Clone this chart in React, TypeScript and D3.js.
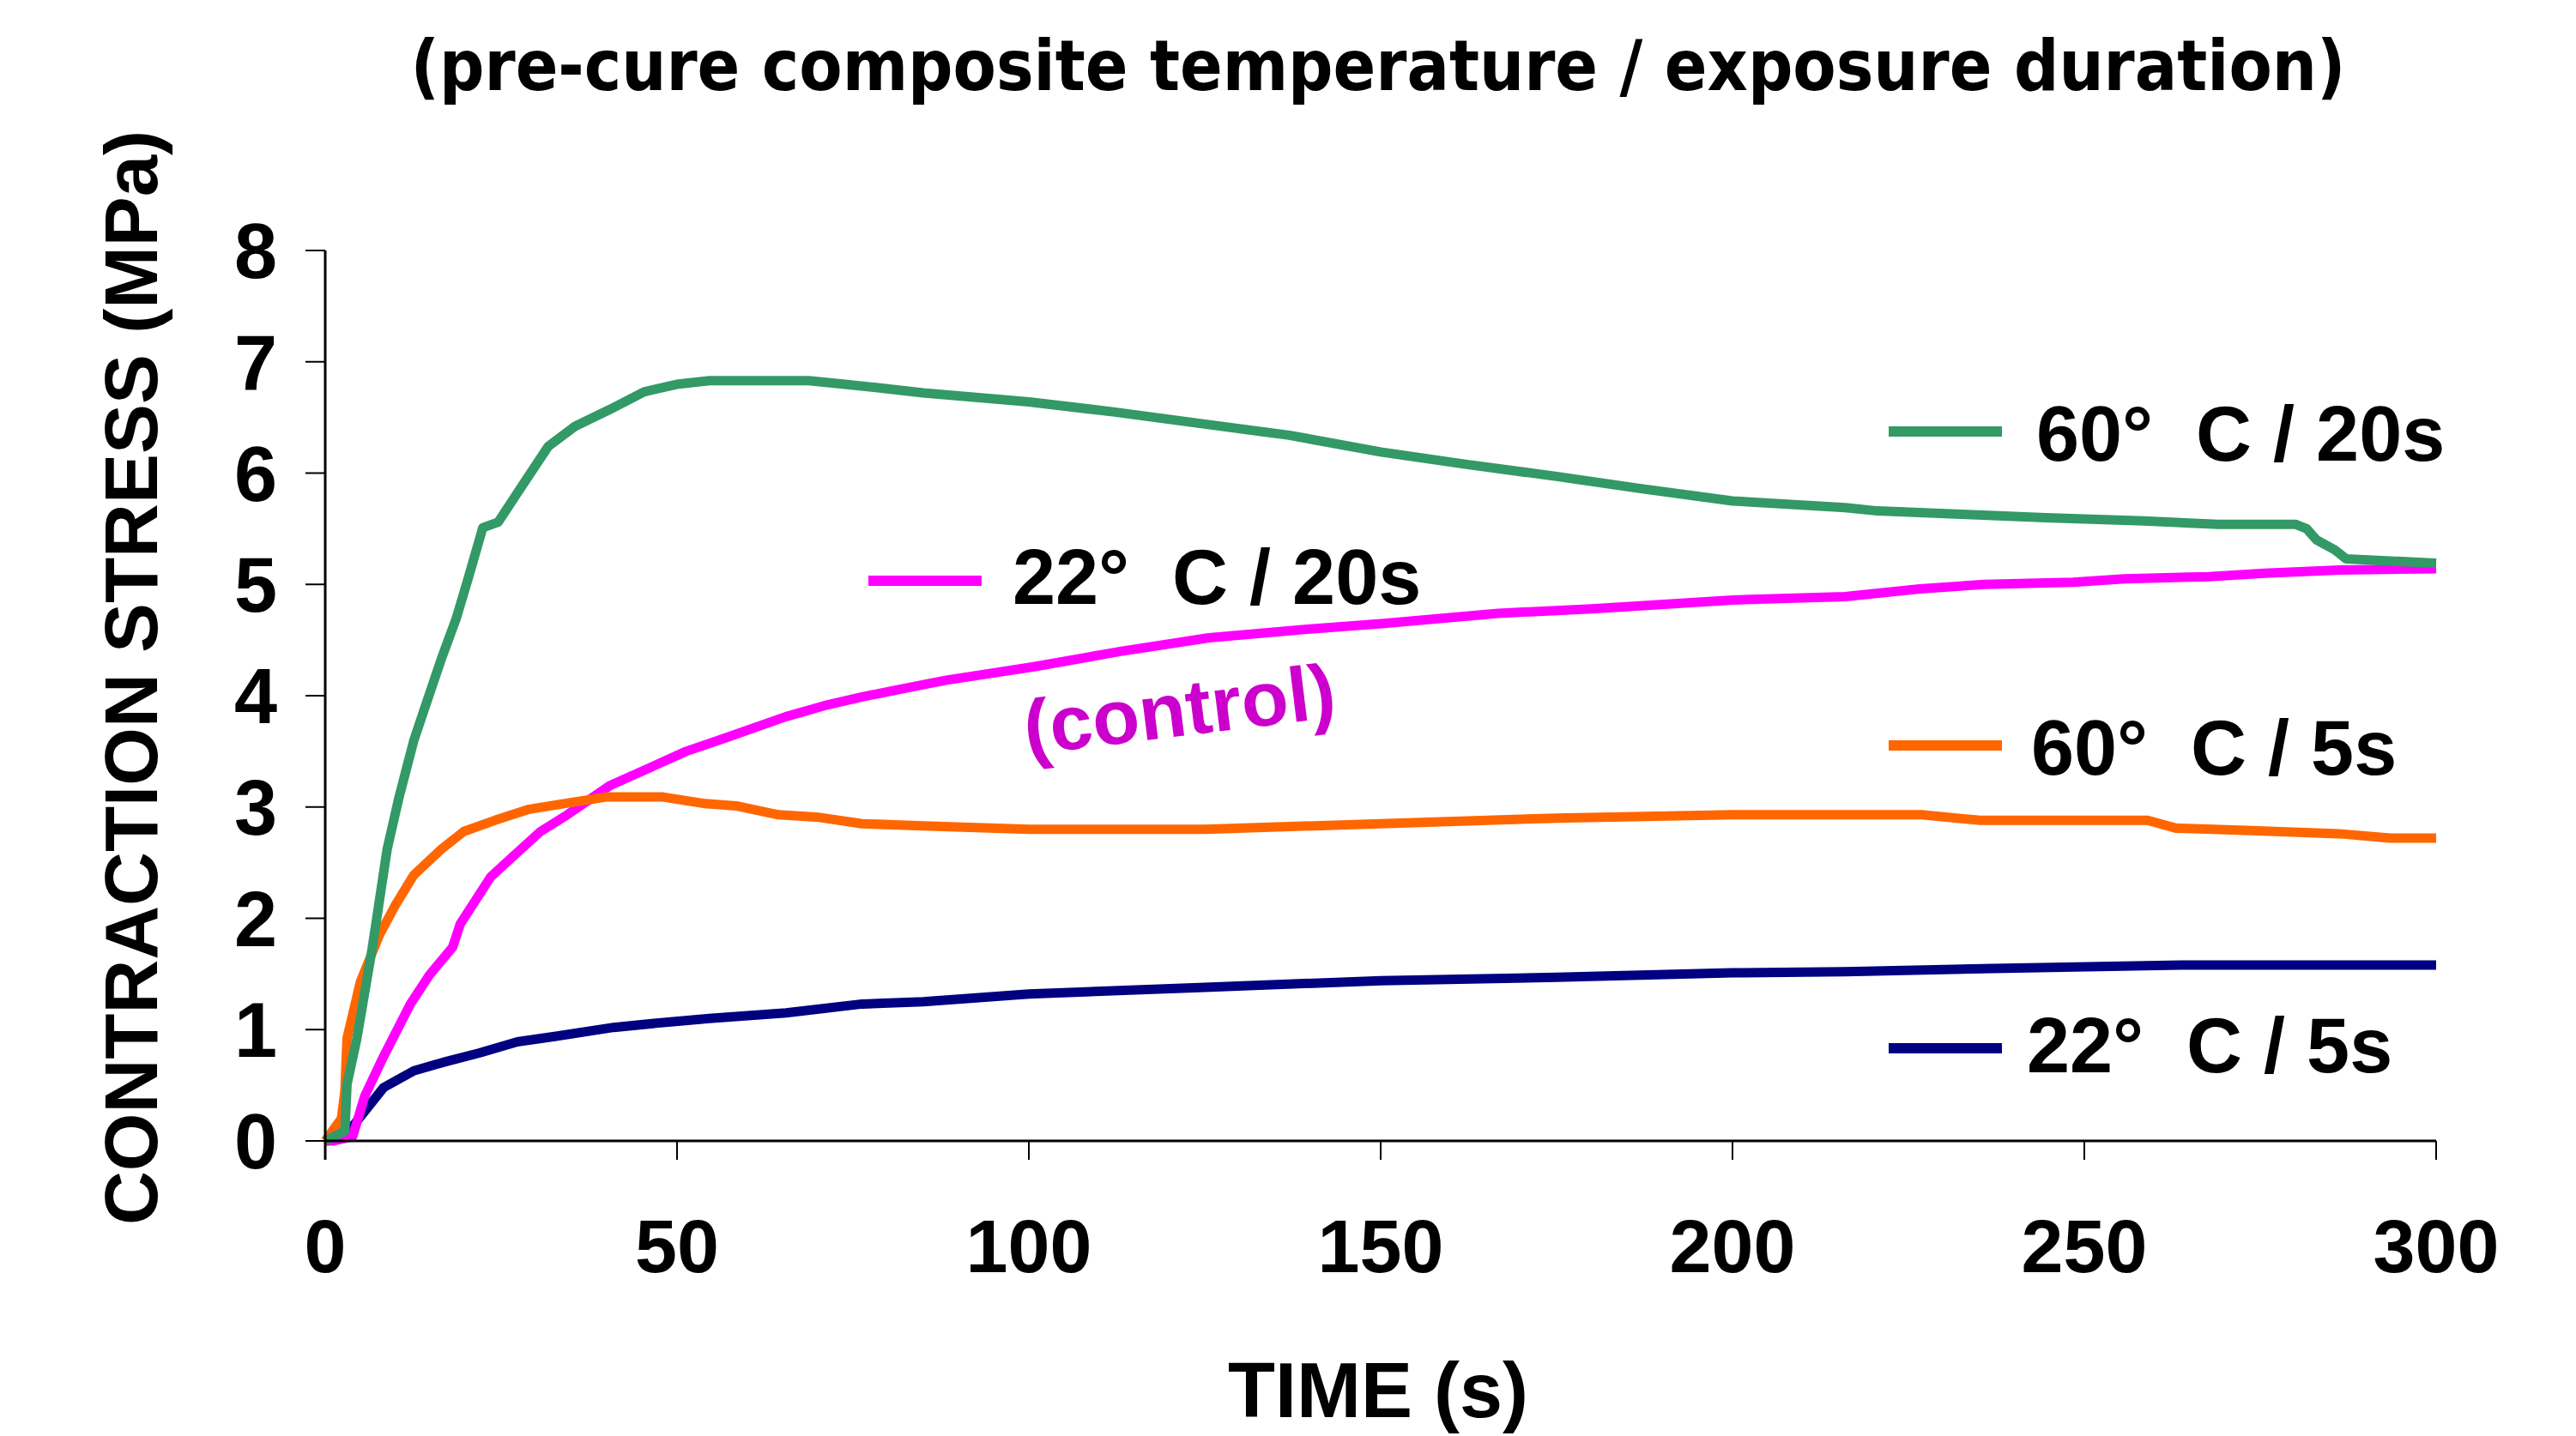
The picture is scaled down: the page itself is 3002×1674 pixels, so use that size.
import React from "react";
import * as d3 from "d3";

type P = [number, number];

const xTicks = [0, 50, 100, 150, 200, 250, 300];
const yTicks = [0, 1, 2, 3, 4, 5, 6, 7, 8];

const green60_20: P[] = [
  [0, 0], [2.8, 0.09], [3.1, 0.51], [4.5, 0.92], [6.7, 1.74], [8.8, 2.62], [10.5, 3.09], [12.6, 3.6],
  [14.3, 3.92], [16.5, 4.33], [18.6, 4.69], [20.3, 5.05], [22.4, 5.51], [24.6, 5.56], [27.3, 5.82],
  [31.7, 6.24], [35.5, 6.42], [40.4, 6.57], [45.3, 6.73], [50.2, 6.8], [54.6, 6.83], [68.7, 6.83],
  [73.6, 6.8], [78, 6.77], [85, 6.72], [100, 6.64], [112, 6.55], [125, 6.44], [137, 6.34], [150, 6.19],
  [162, 6.08], [175, 5.97], [187, 5.86], [200, 5.75], [216, 5.69], [220.6, 5.66], [232.5, 5.63],
  [244.5, 5.6], [258.4, 5.57], [269, 5.54], [280, 5.54], [281.6, 5.5], [283, 5.4], [285.6, 5.31],
  [287.2, 5.23], [300, 5.19],
];

const magenta22_20: P[] = [
  [0, 0], [1.2, 0], [3.9, 0.04], [5.6, 0.4], [8.3, 0.76], [12.1, 1.23], [14.8, 1.49], [18.1, 1.74],
  [19.2, 1.95], [23.5, 2.37], [25.2, 2.47], [30.6, 2.78], [34.4, 2.93], [40.4, 3.19], [51.3, 3.5],
  [57.3, 3.63], [65.4, 3.81], [70.9, 3.91], [76.3, 3.99], [85, 4.1], [88.3, 4.14], [100.7, 4.26],
  [113.2, 4.4], [125.6, 4.52], [140, 4.6], [150.5, 4.65], [166.7, 4.74], [180, 4.78], [200, 4.86],
  [216, 4.89], [226.6, 4.96], [235.8, 5.0], [248.4, 5.02], [255.7, 5.05], [267.7, 5.07], [275.6, 5.1],
  [286.2, 5.13], [300, 5.14],
];

const orange60_5: P[] = [
  [0, 0], [2.3, 0.2], [2.8, 0.45], [3.1, 0.92], [5, 1.43], [7.7, 1.85], [9.9, 2.11], [12.6, 2.39],
  [16.5, 2.62], [19.7, 2.78], [24.1, 2.88], [29, 2.98], [33.9, 3.03], [39.9, 3.09], [48, 3.09],
  [54, 3.03], [58.4, 3.01], [64.4, 2.93], [69.8, 2.91], [76.3, 2.85], [85, 2.83], [100, 2.8],
  [125, 2.8], [150, 2.85], [175, 2.9], [200, 2.93], [216, 2.93], [226.9, 2.93], [235.2, 2.88],
  [259, 2.88], [263, 2.81], [273, 2.79], [286.2, 2.76], [293.5, 2.72], [300, 2.72],
];

const navy22_5: P[] = [
  [0, 0], [2.5, 0.02], [3.4, 0.09], [8.3, 0.48], [12.6, 0.63], [17, 0.71], [21.9, 0.79], [27.3, 0.89],
  [32.8, 0.94], [41, 1.02], [49.1, 1.07], [54.6, 1.1], [65.5, 1.15], [76.3, 1.23], [85, 1.25],
  [100, 1.32], [125, 1.38], [150, 1.44], [175, 1.47], [200, 1.51], [216, 1.52], [237, 1.55],
  [264.4, 1.58], [300, 1.58],
];

const seriesNames = ["60°\u00a0 C / 20s", "22°\u00a0 C / 20s", "60°\u00a0 C / 5s", "22°\u00a0 C / 5s"];
const seriesColors = ["#339966", "#FF00FF", "#FF6600", "#000080"];

const title = "(pre-cure composite temperature / exposure duration)";
const xLabel = "TIME (s)";
const yLabel = "CONTRACTION STRESS (MPa)";
const controlLabel = "(control)";

const FONT = "'Liberation Sans', Arial, Helvetica, sans-serif";

export default function App() {
  const W = 3002;
  const H = 1674;
  const x = d3.scaleLinear().domain([0, 300]).range([379, 2839]);
  const y = d3.scaleLinear().domain([0, 8]).range([1330, 292]);
  const line = d3
    .line<P>()
    .x((d) => x(d[0]))
    .y((d) => y(d[1]))
    .curve(d3.curveLinear);

  const series = [green60_20, magenta22_20, orange60_5, navy22_5];
  const order = [3, 1, 2, 0];

  const legends = [
    { i: 0, x1: 2201, x2: 2333, ly: 503, tx: 2373, ty: 537 },
    { i: 1, x1: 1012, x2: 1144, ly: 677, tx: 1180, ty: 704 },
    { i: 2, x1: 2201, x2: 2333, ly: 869, tx: 2367, ty: 903 },
    { i: 3, x1: 2201, x2: 2333, ly: 1222, tx: 2362, ty: 1250 },
  ];

  return (
    <svg
      width={W}
      height={H}
      viewBox={`0 0 ${W} ${H}`}
      style={{ position: "absolute", left: 0, top: 0, background: "#fff" }}
      fontFamily={FONT}
      fontWeight="bold"
    >
      <rect x={0} y={0} width={W} height={H} fill="#fff" />

      <text
        x={1606}
        y={105}
        textAnchor="middle"
        fontSize={82}
        fontFamily="'Century Gothic', 'URW Gothic', 'DejaVu Sans', sans-serif"
        fontWeight="bold"
        textLength={2255}
        lengthAdjust="spacingAndGlyphs"
      >
        {title}
      </text>

      {order.map((k) => (
        <path
          key={k}
          d={line(series[k]) || ""}
          fill="none"
          stroke={seriesColors[k]}
          strokeWidth={11}
          strokeLinejoin="round"
        />
      ))}

      <line x1={x(0)} x2={x(300)} y1={y(0)} y2={y(0)} stroke="#000" strokeWidth={3} />
      <line x1={x(0)} x2={x(0)} y1={y(0) + 22} y2={y(8)} stroke="#000" strokeWidth={3} />
      {yTicks.map((t) => (
        <g key={"y" + t}>
          <line x1={x(0) - 23} x2={x(0)} y1={y(t)} y2={y(t)} stroke="#000" strokeWidth={2} />
          <text x={323} y={y(t) + 32} textAnchor="end" fontSize={90}>
            {t}
          </text>
        </g>
      ))}
      {xTicks.map((t) => (
        <g key={"x" + t}>
          <line x1={x(t)} x2={x(t)} y1={y(0)} y2={y(0) + 22} stroke="#000" strokeWidth={2} />
          <text x={x(t)} y={1483} textAnchor="middle" fontSize={88}>
            {t}
          </text>
        </g>
      ))}

      <text x={1606} y={1652} textAnchor="middle" fontSize={90}>
        {xLabel}
      </text>
      <text transform="translate(183,790) rotate(-90)" textAnchor="middle" fontSize={87}>
        {yLabel}
      </text>

      {legends.map((l) => (
        <g key={"l" + l.i}>
          <line x1={l.x1} x2={l.x2} y1={l.ly} y2={l.ly} stroke={seriesColors[l.i]} strokeWidth={12} />
          <text x={l.tx} y={l.ty} fontSize={90}>
            {seriesNames[l.i]}
          </text>
        </g>
      ))}

      <text transform="translate(1197,880) rotate(-7)" fontSize={90} fill="#CC00CC">
        {controlLabel}
      </text>
    </svg>
  );
}
